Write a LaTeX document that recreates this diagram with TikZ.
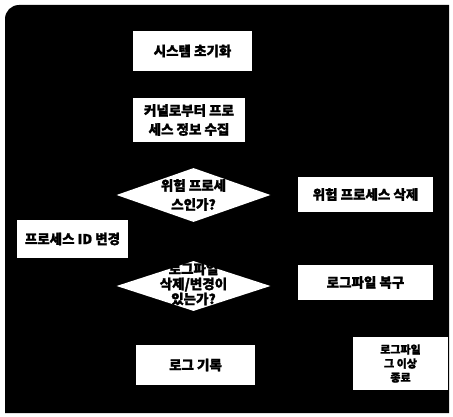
\documentclass[tikz,border=0pt]{standalone}
\usepackage{fontspec}
\newfontfamily\kr{Noto Sans CJK KR}[BoldFeatures={FakeBold=1.5}]
\usetikzlibrary{shapes.geometric}
\begin{document}
\begin{tikzpicture}[x=1pt,y=-1pt,
  txt/.style={font=\kr\bfseries\fontsize{13.5}{19}\selectfont,align=center,text=black},
  box/.style={txt,draw=none,fill=white,rectangle,inner sep=0pt},
  dia/.style={draw=none,fill=white,diamond,aspect=2.9,inner sep=0pt}]
\useasboundingbox (0,0) rectangle (453,417);
\fill[white] (0,0) rectangle (453,417);
\fill[black] (5,413) -- (5,19) arc[start angle=180,end angle=90,radius=14pt] -- (449,5) -- (449,413) -- cycle;
\node[box,minimum width=119,minimum height=40] (init) at (192.5,51) {시스템 초기화};
\node[box,minimum width=112,minimum height=44] (collect) at (189,120) {커널로부터 프로\\세스 정보 수집};
\node[dia,minimum width=154,minimum height=54] (risk) at (193.5,195) {};
\node[txt] (risklbl) at (risk.center) {위험 프로세\\스인가?};
\node[box,minimum width=135,minimum height=35] (del) at (365.5,194.5) {위험 프로세스 삭제};
\node[box,minimum width=111,minimum height=38] (pid) at (72.5,239) {프로세스 ID 변경};
\node[dia,minimum width=154,minimum height=50] (log) at (193.5,286) {};
\node[txt,font=\kr\bfseries\fontsize{13.5}{15}\selectfont] (loglbl) at (193.5,284) {로그파일\\삭제/변경이\\있는가?};
\node[box,minimum width=135,minimum height=35] (restore) at (365.5,282.5) {로그파일 복구};
\node[box,minimum width=119,minimum height=40] (rec) at (195.5,365) {로그 기록};
\node[box,minimum width=95,minimum height=53,font=\kr\bfseries\fontsize{11}{14}\selectfont] (end) at (400.5,363.5) {로그파일\\그 이상\\종료};
\end{tikzpicture}
\end{document}
